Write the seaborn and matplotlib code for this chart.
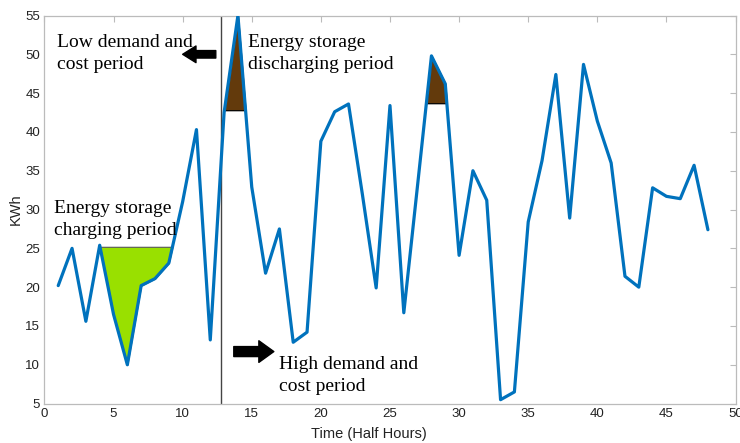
import matplotlib
matplotlib.use("Agg")
import matplotlib.pyplot as plt
import seaborn as sns
import numpy as np
import pandas as pd

# half-hour slots and load (KWh)
slots = np.arange(1, 49)
load = [20.2, 25.0, 15.6, 25.4, 16.5, 10.0, 20.2, 21.1, 23.1, 31.0,
        40.3, 13.2, 42.5, 55.0, 32.9, 21.8, 27.5, 12.9, 14.2, 38.8,
        42.6, 43.6, 32.0, 19.9, 43.4, 16.7, 33.2, 49.8, 46.2, 24.1,
        35.0, 31.2, 5.5, 6.5, 28.4, 36.3, 47.4, 28.9, 48.7, 41.4,
        36.0, 21.4, 20.0, 32.8, 31.7, 31.4, 35.7, 27.4]

# storage levels / windows
charge_level = 25.2
charge_window = (4, 10)
discharge_levels = [42.8, 43.7]
discharge_windows = [(12, 15), (27, 30)]
split_slot = 12.75

df = pd.DataFrame({"slot": slots, "load": load})

sns.set_theme(style="white")
plt.rcParams["font.family"] = ["Liberation Sans", "DejaVu Sans"]

fig = plt.figure(figsize=(7.4, 4.43), dpi=100)
ax = fig.add_axes([0.06, 0.089, 0.934, 0.876])

x = df["slot"].to_numpy()
y = df["load"].to_numpy()

# charging area (below the level)
m = (y < charge_level) & (x >= charge_window[0]) & (x <= charge_window[1])
ax.fill_between(x, y, charge_level, where=m, interpolate=True,
                color="#99e000", edgecolor="#555555", linewidth=0.8, zorder=1)

# discharging areas (above the level)
for lvl, (a, b) in zip(discharge_levels, discharge_windows):
    m = (y > lvl) & (x >= a) & (x <= b)
    ax.fill_between(x, y, lvl, where=m, interpolate=True,
                    color="#633a0c", edgecolor="black", linewidth=0.9, zorder=1)

sns.lineplot(data=df, x="slot", y="load", color="#0072BD", linewidth=2.3,
             ax=ax, zorder=3)

ax.axvline(split_slot, color="#444444", linewidth=1.0, zorder=2)

ax.set_xlim(0, 50)
ax.set_ylim(5, 55)
ax.set_xticks(range(0, 51, 5))
ax.set_yticks(range(5, 56, 5))
ax.tick_params(direction="in", length=4, width=0.8, color="#bbbbbb",
               labelsize=9.5, labelcolor="#222222", top=True, right=True,
               labeltop=False, labelright=False, pad=3)
for s in ax.spines.values():
    s.set_color("#bbbbbb")
    s.set_linewidth(0.9)

ax.set_xlabel("Time (Half Hours)", fontsize=10.5, color="#222222", labelpad=2)
ax.set_ylabel("KWh", fontsize=10.5, color="#222222", labelpad=2)
ax.xaxis.set_label_coords(0.47, -0.06)

serif = dict(family=["Liberation Serif", "DejaVu Serif"], fontsize=14,
             color="black", va="top", ha="left", linespacing=1.36)
ax.text(0.9, 52.6, "Low demand and\ncost period", **serif)
ax.text(14.7, 52.6, "Energy storage\ndischarging period", **serif)
ax.text(0.7, 31.2, "Energy storage\ncharging period", **serif)
ax.text(17.0, 11.1, "High demand and\ncost period", **serif)

ax.annotate("", xy=(9.8, 50.0), xytext=(12.6, 50.0),
            arrowprops=dict(arrowstyle="simple,head_width=1.0,head_length=0.8,tail_width=0.45",
                            color="black"))
ax.annotate("", xy=(16.8, 11.7), xytext=(13.5, 11.7),
            arrowprops=dict(arrowstyle="simple,head_width=1.3,head_length=0.9,tail_width=0.6",
                            color="black"))

fig.savefig("out.png", dpi=100)
